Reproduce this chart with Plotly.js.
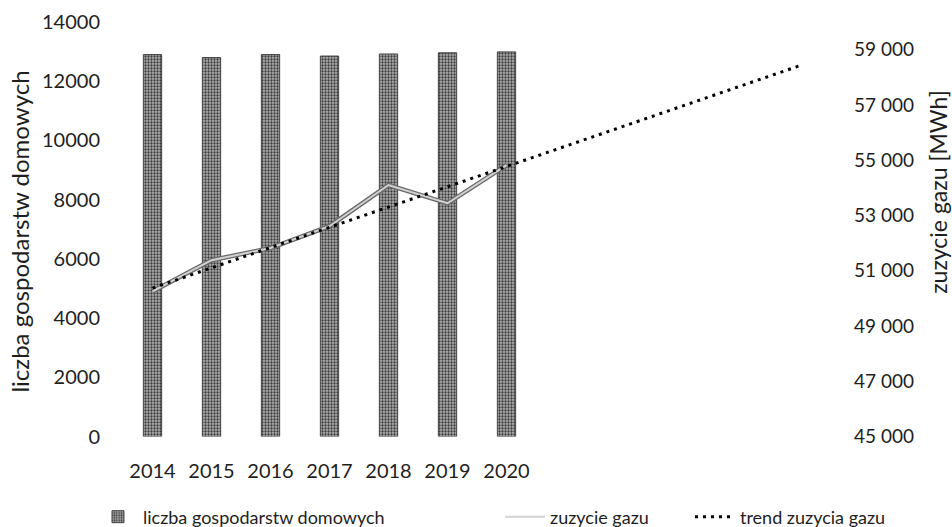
<!DOCTYPE html>
<html>
<head>
<meta charset="utf-8">
<script src="https://cdn.plot.ly/plotly-3.0.1.min.js"></script>
<style>html,body{margin:0;padding:0;background:#fff}#chart{width:952px;height:527px}</style>
</head>
<body>
<div id="chart"></div>
<script>
// ---- data ----
const years = [2014, 2015, 2016, 2017, 2018, 2019, 2020];
const yearLabels = ["2014", "2015", "2016", "2017", "2018", "2019", "2020"];
const households = [12900, 12800, 12900, 12850, 12920, 12960, 12990];
const gasUse = [50250, 51380, 51820, 52610, 54100, 53440, 54820];
const trendYears = [2014, 2025];
const trendGas = [50370, 58440];
const leftTicks = [0, 2000, 4000, 6000, 8000, 10000, 12000, 14000];
const leftTickLabels = ["0", "2000", "4000", "6000", "8000", "10000", "12000", "14000"];
const rightTicks = [45000, 47000, 49000, 51000, 53000, 55000, 57000, 59000];
const rightTickLabels = ["45 000", "47 000", "49 000", "51 000", "53 000", "55 000", "57 000", "59 000"];
const nameBars = "liczba gospodarstw domowych";
const nameGas = "zuzycie gazu";
const nameTrend = "trend zuzycia gazu";
const leftTitle = "liczba gospodarstw domowych";
const rightTitle = "zuzycie gazu [MWh]";

const FONT = "Lato, 'Open Sans', sans-serif";
const TXT = "#1e1e1e";

const traces = [
  {
    type: "bar", x: years, y: households, name: nameBars, width: 0.31,
    marker: {
      color: "#9c9c9c",
      line: {color: "#444", width: 1},
      pattern: {shape: ".", fgcolor: "#3a3a3a", bgcolor: "#b0b0b0", size: 3, solidity: 0.45}
    },
    yaxis: "y", legend: "legend"
  },
  {
    type: "scatter", mode: "lines", x: years, y: gasUse, name: nameGas,
    line: {color: "#6a6a6a", width: 4.5}, yaxis: "y2", showlegend: false, hoverinfo: "skip"
  },
  {
    type: "scatter", mode: "lines", x: years, y: gasUse, name: nameGas,
    line: {color: "#d2d2d2", width: 2}, yaxis: "y2", legend: "legend2"
  },
  {
    type: "scatter", mode: "lines", x: trendYears, y: trendGas, name: nameTrend,
    line: {color: "#000", width: 3, dash: "3px,5px"}, yaxis: "y2", legend: "legend3"
  }
];

const legendBase = {
  orientation: "h", xanchor: "left", y: 0.0198, yanchor: "middle",
  font: {size: 18, family: FONT, color: TXT}, bgcolor: "rgba(0,0,0,0)",
  itemwidth: 40, borderwidth: 0
};

const layout = {
  width: 952, height: 527,
  margin: {l: 123, r: 121, t: 22, b: 0, pad: 0, autoexpand: false},
  paper_bgcolor: "#fff", plot_bgcolor: "#fff",
  font: {family: FONT, size: 20, color: TXT},
  showlegend: true,
  xaxis: {
    range: [2013.5, 2025.5], tickmode: "array", tickvals: years, ticktext: yearLabels,
    showgrid: false, zeroline: false, showline: false, ticks: "", automargin: false,
    ticklabelstandoff: 20, tickfont: {size: 20, family: FONT, color: TXT}
  },
  yaxis: {
    domain: [0.1792, 1],
    range: [0, 14000], tickmode: "array", tickvals: leftTicks, ticktext: leftTickLabels,
    showgrid: false, zeroline: false, showline: false, ticks: "", automargin: false,
    ticklabelstandoff: 22, tickfont: {size: 20, family: FONT, color: TXT}
  },
  yaxis2: {
    domain: [0.1792, 1],
    range: [45000, 60000], overlaying: "y", side: "right",
    tickmode: "array", tickvals: rightTicks, ticktext: rightTickLabels,
    showgrid: false, zeroline: false, showline: false, ticks: "", automargin: false,
    ticklabelstandoff: 22, tickfont: {size: 19, family: FONT, color: TXT}
  },
  legend: Object.assign({}, legendBase, {x: -0.0424}),
  legend2: Object.assign({}, legendBase, {x: 0.5325}),
  legend3: Object.assign({}, legendBase, {x: 0.8008}),
  annotations: [
    {text: leftTitle, xref: "paper", yref: "paper", x: -0.1455, y: 0.585,
     textangle: -90, showarrow: false, font: {size: 24, family: FONT, color: TXT},
     xanchor: "center", yanchor: "middle"},
    {text: rightTitle, xref: "paper", yref: "paper", x: 1.152, y: 0.663,
     textangle: -90, showarrow: false, font: {size: 23, family: FONT, color: TXT},
     xanchor: "center", yanchor: "middle"}
  ]
};

Plotly.newPlot("chart", traces, layout, {displayModeBar: false, staticPlot: true});
</script>
</body>
</html>
